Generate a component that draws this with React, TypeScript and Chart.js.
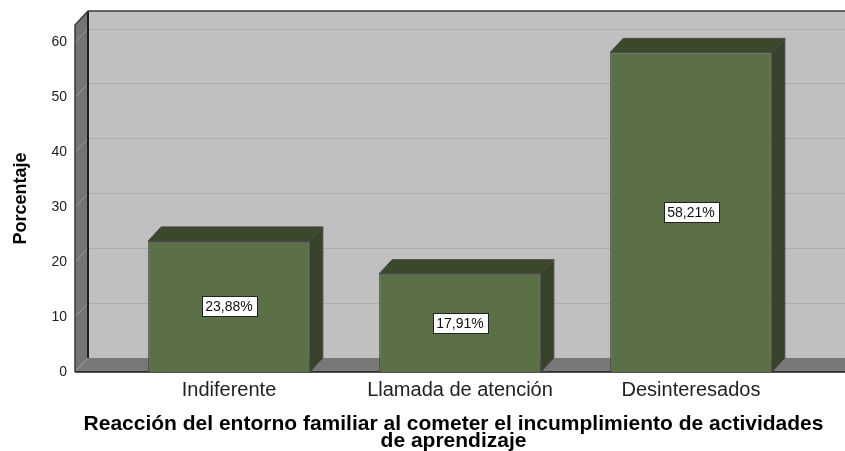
import { useEffect, useRef } from 'react';
import { Chart, registerables } from 'chart.js';

Chart.register(...registerables);

const CATEGORIES = ['Indiferente', 'Llamada de atención', 'Desinteresados'];
const PERCENTAGES = [23.88, 17.91, 58.21];
const VALUE_LABELS = ['23,88%', '17,91%', '58,21%'];
const Y_TICKS = [0, 10, 20, 30, 40, 50, 60];
const Y_TITLE = 'Porcentaje';
const X_TITLE = [
  'Reacción del entorno familiar al cometer el incumplimiento de actividades',
  'de aprendizaje',
];

const FONT = "'Liberation Sans', Arial, sans-serif";
const DX = 13;
const DY = 14;

const threeD = {
  id: 'threeD',
  beforeDatasetsDraw(chart: any) {
    const { ctx, chartArea } = chart;
    const { left: L, right: R, top: T, bottom: B } = chartArea;
    const W = R + DX;
    const y = chart.scales.y;
    ctx.save();

    // back wall
    ctx.fillStyle = '#c0c0c0';
    ctx.fillRect(L + DX, T - DY, W - (L + DX), B - T);

    // back wall grid lines
    ctx.strokeStyle = '#acacac';
    ctx.lineWidth = 1;
    y.ticks.forEach((t: any) => {
      if (t.value === 0) return;
      const py = Math.round(y.getPixelForValue(t.value) - DY) + 0.5;
      ctx.beginPath();
      ctx.moveTo(L + DX, py);
      ctx.lineTo(W, py);
      ctx.stroke();
    });

    // left wall
    ctx.fillStyle = '#747474';
    ctx.beginPath();
    ctx.moveTo(L, T);
    ctx.lineTo(L + DX, T - DY);
    ctx.lineTo(L + DX, B - DY);
    ctx.lineTo(L, B);
    ctx.closePath();
    ctx.fill();

    // left wall grid diagonals
    ctx.strokeStyle = '#9c9c9c';
    ctx.lineWidth = 1;
    y.ticks.forEach((t: any) => {
      if (t.value === 0) return;
      const py = y.getPixelForValue(t.value);
      ctx.beginPath();
      ctx.moveTo(L, py);
      ctx.lineTo(L + DX, py - DY);
      ctx.stroke();
    });

    // floor
    ctx.fillStyle = '#787878';
    ctx.beginPath();
    ctx.moveTo(L, B);
    ctx.lineTo(L + DX, B - DY);
    ctx.lineTo(W, B - DY);
    ctx.lineTo(W, B);
    ctx.closePath();
    ctx.fill();

    // floor / left wall junction
    ctx.strokeStyle = '#9c9c9c';
    ctx.beginPath();
    ctx.moveTo(L, B);
    ctx.lineTo(L + DX, B - DY);
    ctx.stroke();

    // edges
    ctx.strokeStyle = '#1e1e1e';
    ctx.lineWidth = 2;
    ctx.beginPath();
    ctx.moveTo(L + DX, T - DY);
    ctx.lineTo(L + DX, B - DY);
    ctx.stroke();

    ctx.strokeStyle = '#3a3a3a';
    ctx.lineWidth = 1.5;
    ctx.beginPath();
    ctx.moveTo(L, B);
    ctx.lineTo(L, T);
    ctx.lineTo(L + DX, T - DY);
    ctx.lineTo(W, T - DY);
    ctx.stroke();

    ctx.strokeStyle = '#1a1a1a';
    ctx.lineWidth = 1.5;
    ctx.beginPath();
    ctx.moveTo(L, B);
    ctx.lineTo(W, B);
    ctx.stroke();

    // bar top and side faces
    const meta = chart.getDatasetMeta(0);
    meta.data.forEach((bar: any) => {
      const { x, y: yt, width } = bar.getProps(['x', 'y', 'width'], true);
      const x0 = x - width / 2;
      const x1 = x + width / 2;
      ctx.lineWidth = 1;
      ctx.strokeStyle = '#4a4a4a';
      // top
      ctx.fillStyle = '#3a482c';
      ctx.beginPath();
      ctx.moveTo(x0, yt);
      ctx.lineTo(x0 + DX, yt - DY);
      ctx.lineTo(x1 + DX, yt - DY);
      ctx.lineTo(x1, yt);
      ctx.closePath();
      ctx.fill();
      ctx.stroke();
      // side
      ctx.fillStyle = '#36432a';
      ctx.beginPath();
      ctx.moveTo(x1, yt);
      ctx.lineTo(x1 + DX, yt - DY);
      ctx.lineTo(x1 + DX, B - DY);
      ctx.lineTo(x1, B);
      ctx.closePath();
      ctx.fill();
      ctx.stroke();
    });

    ctx.restore();
  },
  afterDatasetsDraw(chart: any) {
    const { ctx } = chart;
    const meta = chart.getDatasetMeta(0);
    ctx.save();
    ctx.font = `14px ${FONT}`;
    ctx.textAlign = 'center';
    ctx.textBaseline = 'middle';
    meta.data.forEach((bar: any, i: number) => {
      const { x, y: yt, base } = bar.getProps(['x', 'y', 'base'], true);
      const text = VALUE_LABELS[i];
      const tw = ctx.measureText(text).width;
      const bw = Math.round(tw + 8);
      const bh = 20;
      const cx = Math.round(x);
      const cy = Math.round((yt + base) / 2);
      const bx = Math.round(cx - bw / 2) + 0.5;
      const by = Math.round(cy - bh / 2) + 0.5;
      ctx.fillStyle = '#ffffff';
      ctx.fillRect(bx, by, bw, bh);
      ctx.strokeStyle = '#222222';
      ctx.lineWidth = 1;
      ctx.strokeRect(bx, by, bw, bh);
      ctx.fillStyle = '#111111';
      ctx.fillText(text, cx, cy + 1);
    });
    ctx.restore();
  },
};

export default function App() {
  const ref = useRef<HTMLCanvasElement | null>(null);

  useEffect(() => {
    if (!ref.current) return;
    const chart = new Chart(ref.current, {
      type: 'bar',
      data: {
        datasets: [
          {
            data: PERCENTAGES.map((v, i) => ({ x: i, y: v })),
            backgroundColor: '#5c7048',
            borderColor: '#464646',
            borderWidth: 1,
            barPercentage: 0.7,
            categoryPercentage: 1,
          },
        ],
      },
      options: {
        animation: false,
        responsive: true,
        maintainAspectRatio: false,
        layout: { padding: { top: 25, right: 13, left: 0, bottom: 0 } },
        plugins: {
          legend: { display: false },
          tooltip: { enabled: false },
        },
        scales: {
          x: {
            type: 'linear',
            offset: false,
            min: -0.6667,
            max: 2.6104,
            grid: { display: false, drawTicks: false },
            border: { display: false },
            afterBuildTicks: (scale: any) => {
              scale.ticks = CATEGORIES.map((_, i) => ({ value: i }));
            },
            afterFit: (scale: any) => {
              scale.height = 79;
            },
            ticks: {
              autoSkip: false,
              maxRotation: 0,
              minRotation: 0,
              padding: 6,
              color: '#222222',
              font: { family: FONT, size: 20 },
              callback: (value: any) => CATEGORIES[value as number] ?? '',
            },
            title: {
              display: true,
              text: X_TITLE,
              color: '#000000',
              font: { family: FONT, size: 21, weight: 'bold', lineHeight: 0.78 },
              padding: { top: 0, bottom: 2 },
            },
          },
          y: {
            min: 0,
            max: 63.2,
            grid: { display: false, drawTicks: false },
            border: { display: false },
            afterBuildTicks: (scale: any) => {
              scale.ticks = Y_TICKS.map((v) => ({ value: v }));
            },
            afterFit: (scale: any) => {
              scale.width = 75;
            },
            ticks: {
              padding: 8,
              color: '#222222',
              font: { family: FONT, size: 14 },
            },
            title: {
              display: true,
              text: Y_TITLE,
              color: '#000000',
              font: { family: FONT, size: 18, weight: 'bold' },
              padding: { top: 10, bottom: 0 },
            },
          },
        },
      },
      plugins: [threeD],
    });
    return () => chart.destroy();
  }, []);

  return (
    <div style={{ position: 'absolute', left: 0, top: 0, width: 845, height: 451 }}>
      <canvas ref={ref} />
    </div>
  );
}
